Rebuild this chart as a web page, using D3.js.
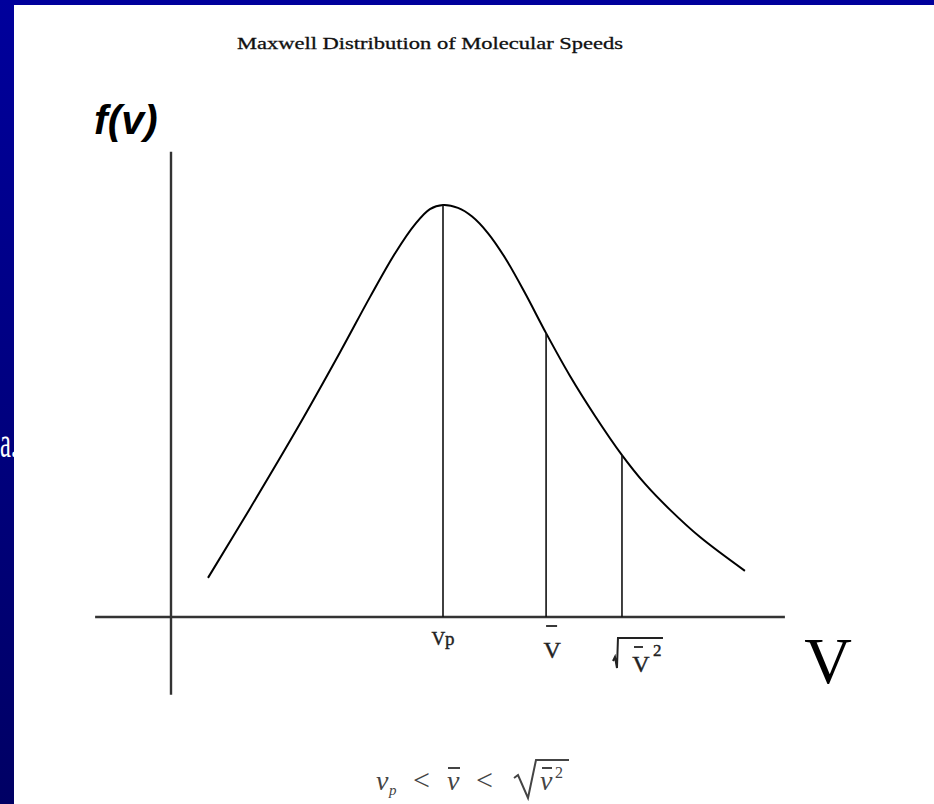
<!DOCTYPE html>
<html>
<head>
<meta charset="utf-8">
<script src="https://cdn.jsdelivr.net/npm/d3@7"></script>
<style>
  html, body { margin: 0; padding: 0; background: #000080; }
  svg { display: block; }
</style>
</head>
<body>
<svg id="chart" width="934" height="804"></svg>
<script>
// Speed in units of the most probable speed, density relative to its peak.
const speeds  = [0.136, 0.290, 0.474, 0.621, 0.732, 0.824, 0.897, 0.952, 1.000,
                 1.055, 1.107, 1.165, 1.228, 1.301, 1.379, 1.467, 1.559, 1.658,
                 1.743, 1.835, 1.945, 2.110];
const density = [0.095, 0.263, 0.469, 0.642, 0.777, 0.883, 0.953, 0.990, 1.000,
                 0.993, 0.972, 0.932, 0.872, 0.787, 0.689, 0.585, 0.488, 0.393,
                 0.323, 0.260, 0.194, 0.112];

// Characteristic speeds: most probable, mean, root-mean-square
const markerNames   = ["vp", "vmean", "vrms"];
const markerSpeeds  = [1.000, 1.379, 1.658];
const markerDensity = [1.000, 0.689, 0.393];

const titleText = "Maxwell Distribution of Molecular Speeds";
const yLabel = "f(v)";
const xLabel = "V";

const svg = d3.select("#chart");
const W = 934, H = 804;
const serif = "'Liberation Serif', 'Times New Roman', serif";

// Slide backdrop: dark blue gradient framing a white panel
const defs = svg.append("defs");
const grad = defs.append("linearGradient").attr("id", "slideBg")
  .attr("x1", 0).attr("y1", 0).attr("x2", 0).attr("y2", 1);
grad.append("stop").attr("offset", "0%").attr("stop-color", "#00009c");
grad.append("stop").attr("offset", "100%").attr("stop-color", "#000064");
svg.append("rect").attr("width", W).attr("height", H).attr("fill", "url(#slideBg)");

svg.append("rect").attr("x", 14).attr("y", 5).attr("width", W - 14).attr("height", H - 5)
  .attr("fill", "#ffffff");

svg.append("text")
  .attr("x", 0).attr("y", 457)
  .attr("font-family", serif)
  .attr("font-size", 44).attr("fill", "#ffffff")
  .attr("textLength", 17).attr("lengthAdjust", "spacingAndGlyphs")
  .text("a.");

// Scales
const x = d3.scaleLinear().domain([0, 1]).range([171, 443]);
const y = d3.scaleLinear().domain([0, 1]).range([617, 205]);

// Title
svg.append("text")
  .attr("x", 430).attr("y", 49)
  .attr("text-anchor", "middle")
  .attr("font-family", serif)
  .attr("font-size", 17)
  .attr("textLength", 386).attr("lengthAdjust", "spacingAndGlyphs")
  .attr("fill", "#111")
  .attr("stroke", "#111").attr("stroke-width", 0.3)
  .text(titleText);

// Axes (no ticks)
const axisColor = "#333";
svg.append("line")
  .attr("x1", x(-0.279)).attr("x2", x(2.257))
  .attr("y1", y(0)).attr("y2", y(0))
  .attr("stroke", axisColor).attr("stroke-width", 2.4);
svg.append("line")
  .attr("x1", x(0)).attr("x2", x(0))
  .attr("y1", y(1.129)).attr("y2", y(-0.189))
  .attr("stroke", axisColor).attr("stroke-width", 2.4);

// Axis labels
svg.append("text")
  .attr("x", 94).attr("y", 134)
  .attr("font-family", "'Liberation Sans', Arial, sans-serif")
  .attr("font-weight", "bold").attr("font-style", "italic")
  .attr("font-size", 41).attr("fill", "#000")
  .text(yLabel);

svg.append("text")
  .attr("x", 828).attr("y", 683)
  .attr("text-anchor", "middle")
  .attr("font-family", serif)
  .attr("font-size", 66).attr("fill", "#000")
  .text(xLabel);

// Distribution curve
const line = d3.line()
  .x((d, i) => x(speeds[i]))
  .y((d, i) => y(density[i]))
  .curve(d3.curveCatmullRom.alpha(0.5));
svg.append("path")
  .datum(speeds)
  .attr("d", line)
  .attr("fill", "none")
  .attr("stroke", "#000")
  .attr("stroke-width", 2);

// Drop lines at characteristic speeds
svg.selectAll(".drop")
  .data(markerSpeeds)
  .join("line")
  .attr("class", "drop")
  .attr("x1", d => x(d)).attr("x2", d => x(d))
  .attr("y1", (d, i) => y(markerDensity[i])).attr("y2", y(0))
  .attr("stroke", "#111").attr("stroke-width", 1.6);

// Speed labels under the axis
const lab = svg.append("g").attr("font-family", serif).attr("fill", "#222")
  .attr("stroke", "#222").attr("stroke-width", 0.4);

lab.append("text")
  .attr("x", x(markerSpeeds[0])).attr("y", 645)
  .attr("text-anchor", "middle").attr("font-size", 19)
  .text("Vp");

// mean speed: V with overbar
const mx = x(markerSpeeds[1]) + 6;
lab.append("text")
  .attr("x", mx).attr("y", 658)
  .attr("text-anchor", "middle").attr("font-size", 24)
  .text("V");
lab.append("line")
  .attr("x1", mx - 6).attr("x2", mx + 5)
  .attr("y1", 626).attr("y2", 626)
  .attr("stroke-width", 1.8);

// rms speed: square root of V-bar squared
const rx = x(markerSpeeds[2]);
lab.append("path")
  .attr("d", `M${rx - 9},${661} L${rx - 7},${657} L${rx - 5},${668} L${rx - 4},${638} L${rx + 41},${638}`)
  .attr("fill", "none").attr("stroke-width", 2);
lab.append("text")
  .attr("x", rx + 19).attr("y", 672)
  .attr("text-anchor", "middle").attr("font-size", 24)
  .text("V");
lab.append("line")
  .attr("x1", rx + 12).attr("x2", rx + 21)
  .attr("y1", 647).attr("y2", 647)
  .attr("stroke-width", 1.8);
lab.append("text")
  .attr("x", rx + 31).attr("y", 656)
  .attr("font-size", 17)
  .text("2");

// Ordering of the characteristic speeds: v_p < v-bar < sqrt(v-bar^2)
const eqG = svg.append("g").attr("font-family", serif).attr("fill", "#444");
const eqY = 790;
eqG.append("text").attr("x", 376).attr("y", eqY).attr("font-size", 28)
  .attr("font-style", "italic").text("v");
eqG.append("text").attr("x", 389).attr("y", eqY + 5).attr("font-size", 15)
  .attr("font-style", "italic").text("p");
eqG.append("text").attr("x", 413).attr("y", eqY).attr("font-size", 30).text("<");
eqG.append("text").attr("x", 447).attr("y", eqY).attr("font-size", 28)
  .attr("font-style", "italic").text("v");
eqG.append("line").attr("x1", 448).attr("x2", 460).attr("y1", 768).attr("y2", 768)
  .attr("stroke", "#444").attr("stroke-width", 2);
eqG.append("text").attr("x", 476).attr("y", eqY).attr("font-size", 30).text("<");
eqG.append("path")
  .attr("d", "M514,778 L518,775 L528,798 L536,760 L569,760")
  .attr("fill", "none").attr("stroke", "#444").attr("stroke-width", 2);
eqG.append("text").attr("x", 540).attr("y", eqY).attr("font-size", 28)
  .attr("font-style", "italic").text("v");
eqG.append("line").attr("x1", 542).attr("x2", 552).attr("y1", 768).attr("y2", 768)
  .attr("stroke", "#444").attr("stroke-width", 2);
eqG.append("text").attr("x", 555).attr("y", 778).attr("font-size", 16).text("2");
</script>
</body>
</html>
